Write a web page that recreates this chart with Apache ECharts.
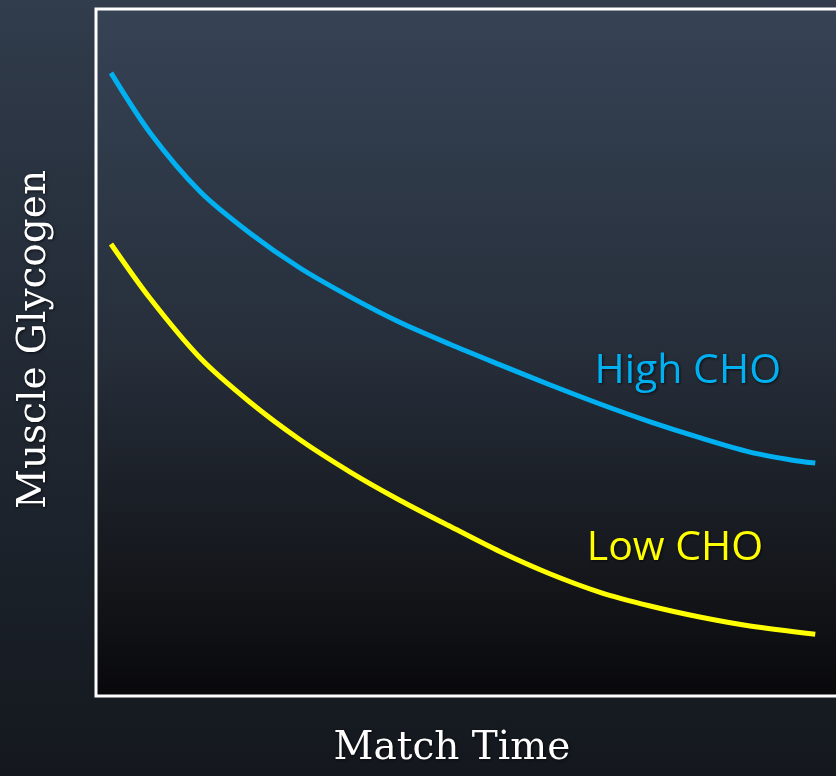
<!DOCTYPE html>
<html>
<head>
<meta charset="utf-8">
<title>Muscle Glycogen vs Match Time</title>
<script src="https://cdn.jsdelivr.net/npm/echarts@6/dist/echarts.min.js"></script>
<style>
  html, body { margin: 0; padding: 0; }
  body { width: 836px; height: 776px; background: linear-gradient(to bottom, #313c4c 0%, #222a35 45%, #14181e 100%); }
  #chart { width: 836px; height: 776px; }
</style>
</head>
<body>
<div id="chart"></div>
<script>
// Match time (0–100 % of the match) and relative muscle glycogen
const highTime = [2.0, 7.2, 13.9, 20.5, 27.2, 33.9, 40.5, 47.2, 53.9, 60.5, 67.2, 73.9, 80.5, 87.2, 92.5, 95.9];
const highGlycogen = [90.7, 82.0, 73.4, 67.4, 62.3, 58.1, 54.4, 51.2, 48.2, 45.3, 42.5, 39.9, 37.6, 35.5, 34.4, 33.9];
const lowTime = [2.0, 7.2, 13.9, 20.5, 27.2, 33.9, 40.5, 47.2, 53.9, 60.5, 67.2, 73.9, 80.5, 87.2, 95.9];
const lowGlycogen = [65.8, 57.9, 49.2, 42.8, 37.3, 32.6, 28.5, 24.7, 21.0, 17.8, 15.1, 13.1, 11.5, 10.2, 9.0];

const seriesNames = ['High CHO', 'Low CHO'];
const seriesColors = ['#00b0f0', '#ffff00'];
// where each curve's name is written
const labelAt = [[78.9, 47.2], [77.2, 21.5]];

const zip = (xs, ys) => xs.map((x, i) => [x, ys[i]]);

const chart = echarts.init(document.getElementById('chart'), null, { renderer: 'canvas' });

function curve(name, data, color, at) {
  return {
    name: name,
    type: 'line',
    data: data,
    smooth: 0.3,
    showSymbol: false,
    lineStyle: { color: color, width: 5 },
    markPoint: {
      symbol: 'circle',
      symbolSize: 0,
      data: [{ coord: at }],
      label: {
        show: true,
        position: 'inside',
        formatter: name,
        color: color,
        fontFamily: 'Open Sans',
        fontSize: 41,
        textShadowColor: 'rgba(0,0,0,0.7)',
        textShadowBlur: 3,
        textShadowOffsetX: 1,
        textShadowOffsetY: 1
      }
    }
  };
}

chart.setOption({
  backgroundColor: 'transparent',
  animation: false,
  grid: {
    left: 96, top: 9, width: 750, bottom: 80,
    outerBoundsMode: 'none',
    show: true,
    borderColor: '#ffffff',
    borderWidth: 3,
    backgroundColor: new echarts.graphic.LinearGradient(0, 0, 0, 1, [
      { offset: 0, color: '#364355' },
      { offset: 0.5, color: '#262e3a' },
      { offset: 0.9, color: '#101114' },
      { offset: 1, color: '#08080b' }
    ])
  },
  xAxis: {
    type: 'value', min: 0, max: 100,
    axisLine: { show: false }, axisTick: { show: false },
    axisLabel: { show: false }, splitLine: { show: false },
    name: 'Match Time',
    nameLocation: 'middle',
    nameGap: 33,
    nameTextStyle: {
      color: '#ffffff', fontFamily: 'DejaVu Serif', fontSize: 39,
      padding: [0, 38, 0, 0],
      textShadowColor: 'rgba(0,0,0,0.7)', textShadowBlur: 3, textShadowOffsetX: 1, textShadowOffsetY: 1
    }
  },
  yAxis: {
    type: 'value', min: 0, max: 100,
    axisLine: { show: false }, axisTick: { show: false },
    axisLabel: { show: false }, splitLine: { show: false },
    name: 'Muscle Glycogen',
    nameLocation: 'middle',
    nameGap: 42,
    nameTextStyle: {
      color: '#ffffff', fontFamily: 'DejaVu Serif', fontSize: 39,
      padding: [0, 0, 0, 26],
      textShadowColor: 'rgba(0,0,0,0.7)', textShadowBlur: 3, textShadowOffsetX: 1, textShadowOffsetY: 1
    }
  },
  series: [
    curve(seriesNames[0], zip(highTime, highGlycogen), seriesColors[0], labelAt[0]),
    curve(seriesNames[1], zip(lowTime, lowGlycogen), seriesColors[1], labelAt[1])
  ]
});
</script>
</body>
</html>
